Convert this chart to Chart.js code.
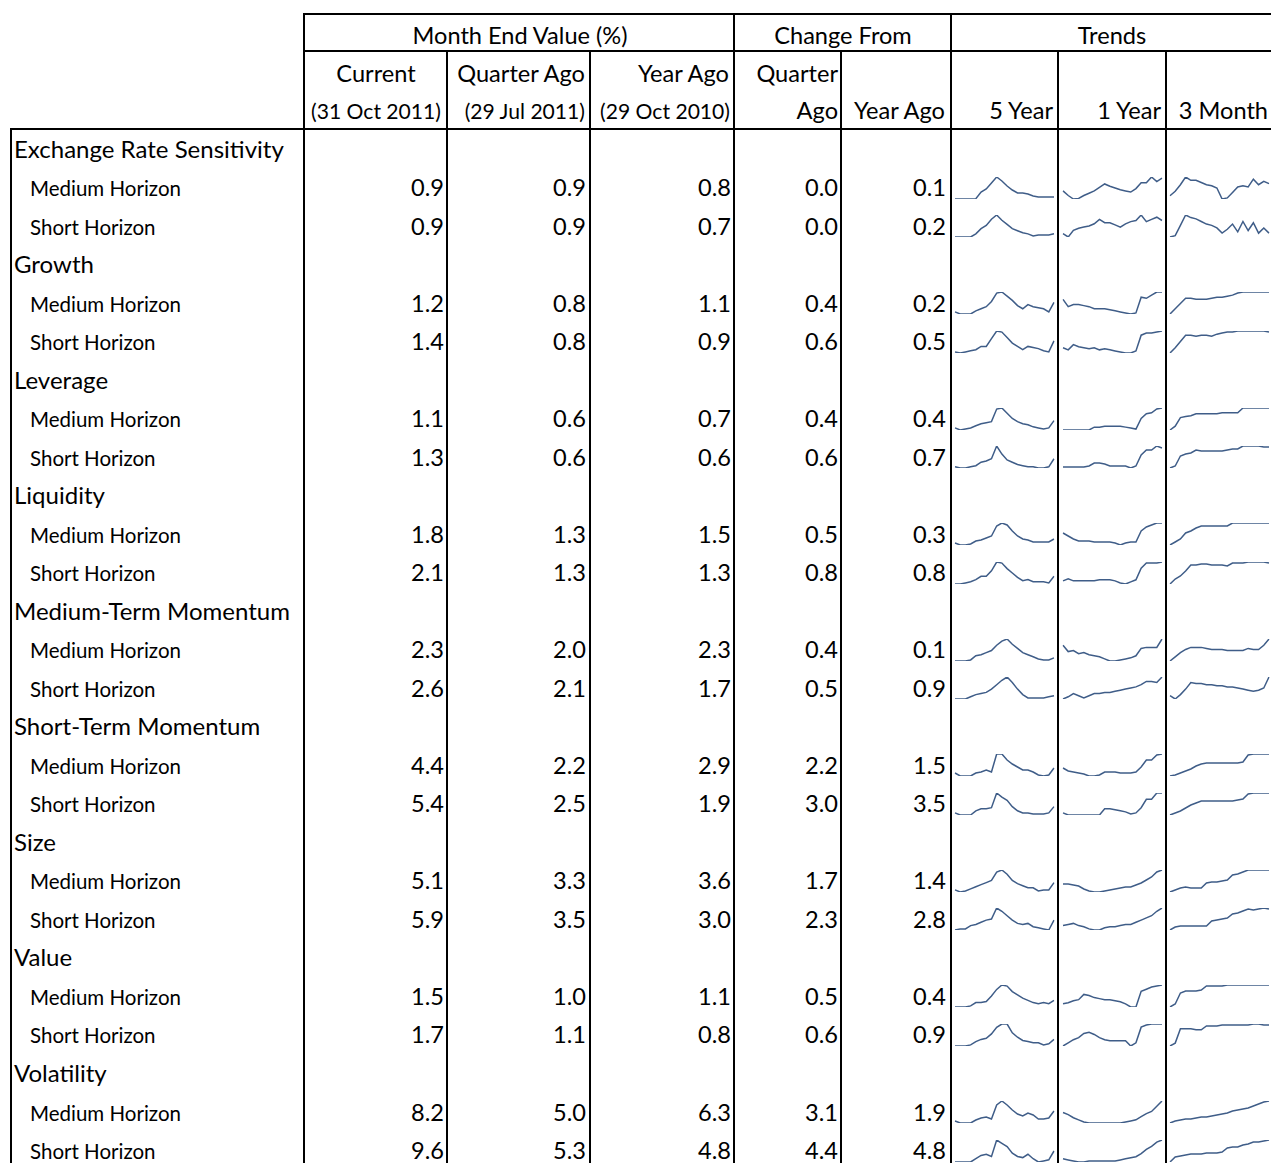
<!DOCTYPE html>
<html><head><meta charset="utf-8">
<script src="https://cdn.jsdelivr.net/npm/chart.js@4.4.1/dist/chart.umd.min.js"></script>
<style>
html,body{margin:0;padding:0;background:#fff;}
#wrap{position:relative;width:1271px;height:1163px;overflow:hidden;background:#fff;}
#grid{position:absolute;left:0;top:0;}
canvas.spark{position:absolute;}
</style></head><body>
<div id="wrap"><svg id="grid" width="1271" height="1163" xmlns="http://www.w3.org/2000/svg"></svg></div>
<script>
// ---------- DATA ----------
const groups = ["Exchange Rate Sensitivity","Growth","Leverage","Liquidity","Medium-Term Momentum","Short-Term Momentum","Size","Value","Volatility"];
const horizons = ["Medium Horizon","Short Horizon"];
const current    = [0.9,0.9,1.2,1.4,1.1,1.3,1.8,2.1,2.3,2.6,4.4,5.4,5.1,5.9,1.5,1.7,8.2,9.6];
const quarterAgo = [0.9,0.9,0.8,0.8,0.6,0.6,1.3,1.3,2.0,2.1,2.2,2.5,3.3,3.5,1.0,1.1,5.0,5.3];
const yearAgo    = [0.8,0.7,1.1,0.9,0.7,0.6,1.5,1.3,2.3,1.7,2.9,1.9,3.6,3.0,1.1,0.8,6.3,4.8];
const chgQuarter = [0.0,0.0,0.4,0.6,0.4,0.6,0.5,0.8,0.4,0.5,2.2,3.0,1.7,2.3,0.5,0.6,3.1,4.4];
const chgYear    = [0.1,0.2,0.2,0.5,0.4,0.7,0.3,0.8,0.1,0.9,1.5,3.5,1.4,2.8,0.4,0.9,1.9,4.8];
const headerTop = ["Month End Value (%)","Change From","Trends"];
const headerRow2 = ["Current","Quarter Ago","Year Ago","Quarter"];
const headerRow3 = ["(31 Oct 2011)","(29 Jul 2011)","(29 Oct 2010)","Ago","Year Ago"];
const trendLabels = ["5 Year","1 Year","3 Month"];

const trend5Y = [
 [1,1,1,1,1.3,8,11,17,23,19,14,10,7,7,6,4,3,3,3,3],
 [1,1,1,1,4,9,12,18,22,17,13,9,7,5,4,2,3,3,3,4],
 [3,1,1,1,4,6,8,13,21,22,18,14,9,6,10,8,7,6,3,12],
 [2,1,2,3,4,7,7,14,21,20,15,10,7,4,7,6,5,3,2,12],
 [2,0,1,2,4,6,7,8,20,21,16,11,8,6,5,3,2,1,2,9],
 [2,1,1,2,3,6,7,9,20,13,8,6,4,3,2,2,1,1,2,9],
 [2,0,0,1,4,5,7,9,19,22,20,14,9,6,5,3,3,3,3,6],
 [0,0,1,2,4,7,7,12,20,19,14,10,6,3,4,2,2,2,1,7],
 [0,0,0,1,5,6,8,10,15,19,21,16,12,8,6,4,2,1,1,3],
 [0,0,0,2,4,5,6,9,13,17,20,15,9,4,1,1,1,1,2,3],
 [3,0,0,0,3,4,6,4,22,22,16,12,9,6,6,4,1,0,1,8],
 [2,0,0,0,4,6,6,7,21,17,14,8,4,2,2,1,1,1,2,8],
 [2,0,1,3,5,7,9,11,19,21,17,11,8,6,4,4,1,2,2,9],
 [1,2,2,5,6,8,10,11,21,18,14,10,7,6,7,4,3,2,1,10],
 [0,0,0,1,4,4,5,10,16,20,19,14,11,8,6,4,3,4,3,6],
 [0,0,0,1,4,6,7,11,17,20,20,12,8,5,4,3,3,1,2,6],
 [2,0,0,0,3,5,6,4,18,22,18,13,9,7,10,8,4,4,5,12],
 [1,1,1,1,4,7,8,6,21,18,15,9,6,5,8,4,1,2,3,11]
];
const trend1Y = [
 [10,6,3,3.5,6,8,10,13,16,14,12.5,11,10,9,12,17,17,22,18,21],
 [5,2,8,10,11,12,14,18,15,15,13,11,14,16,17,22,16,18,20,17],
 [15,8,10,10,9,8,6,6,6,5,4,3,2,1,2,17,16,19,22,22],
 [7,5,10,8,7,6,7,5,6,5,4,3,2,2,4,19,21,21,22,23],
 [0,0,0,0,0,0,3,3,4,4,4,4,3,2,1,12,17,18,22,23],
 [2,2,2,2,2,3,6,6,5,3,3,3,3,1,3,14,19,19,23,21],
 [12,9,6,4,4,4,3,3,3,3,2,0,2,3,3,14,18,20,22,22],
 [4,6,4,4,4,4,4,5,5,5,4,2,1,3,5,16,21,21,21,22],
 [16,10,11,8,9,7,6,5,3,1,1,2,3,4,6,13,14,14,14,22],
 [1,3,6,4,2,4,6,6,7,7,8,9,10,11,12,14,17,17,16,21],
 [8,5,4,3,2,0,0,1,4,4,4,3,3,3,4,9,16,16,21,22],
 [3,1,1,1,1,1,1,1,7,7,6,5,4,2,3,8,16,16,22,22],
 [8,8,7,6,3,1,0,0,1,2,3,4,5,5,7,9,12,15,20,22],
 [5,6,7,5,4,2,1,1,3,4,4,5,6,6,8,10,12,14,18,21],
 [4,5,7,8,13,12,10,9,8,8,7,6,4,1,1,16,18,20,21,22],
 [1,4,7,9,13,14,12,9,7,6,6,6,6,1,4,19,21,22,22,22],
 [11,9,6,4,2,1,1,1,1,1,1,1,2,3,4,7,10,12,17,22],
 [3,2,1,0,0,1,1,1,1,1,1,2,3,4,5,8,12,15,19,21]
];
const trend3M = [
 [4,8,14,21,18,18,16,14,13,11,1,2,7,12,13,12,19,14,17,15],
 [6,7,15,23,21,20,18,16,15,13,9,12,16,10,18,11,17,9,13,9],
 [1,6,11,16,16,15,15,15,16,17,17,18,19,21,22,22,22,22,22,22],
 [1,6,12,18,18,17,18,18,17,19,20,21,21,22,22,22,22,22,22,21],
 [0,4,13,14,15,17,17,17,17,17,18,18,18,18,23,23,23,23,23,23],
 [0,2,12,14,15,18,17,17,17,17,17,18,19,19,22,22,22,22,21,21],
 [0,3,6,12,14,17,19,19,19,19,19,19,22,22,22,22,22,22,22,22],
 [0,5,8,13,19,19,20,20,19,19,19,18,21,21,21,22,22,22,22,21],
 [0,4,8,11,13,13,13,12,11,11,11,10,10,10,10,12,11,11,15,21],
 [4,1,5,10,16,15,15,14,14,13,13,12,12,11,10,9,8,9,11,21],
 [0,1,3,5,7,10,12,13,13,13,13,13,13,13,14,21,22,22,22,22],
 [0,2,4,7,10,12,14,14,14,14,14,14,14,15,16,21,22,22,22,22],
 [0,2,4,5,4,4,4,9,10,10,11,12,17,18,20,22,22,22,22,22],
 [0,3,4,4,4,4,4,4,9,10,11,12,16,17,19,21,20,21,22,21],
 [0,3,14,16,16,16,17,21,21,21,21,22,22,22,22,22,22,22,22,22],
 [0,3,18,18,18,17,17,21,21,21,22,22,22,22,22,22,23,23,22,22],
 [0,2,3,4,4,5,6,6,7,8,9,10,12,13,14,15,17,19,21,22],
 [0,5,6,7,8,8,8,9,9,9,10,14,15,15,17,18,20,20,21,22]
];

// ---------- LAYOUT ----------
const FONT = "Lato, 'Open Sans', sans-serif";
const svg = document.getElementById('grid');
const wrap = document.getElementById('wrap');
const NS = "http://www.w3.org/2000/svg";
const mctx = document.createElement('canvas').getContext('2d');
function fit(s, target){ mctx.font = "100px Lato"; return 100*target/mctx.measureText(s).width; }

function rect(x,y,w,h){ const r=document.createElementNS(NS,'rect'); r.setAttribute('x',x); r.setAttribute('y',y); r.setAttribute('width',w); r.setAttribute('height',h); r.setAttribute('fill','#000'); svg.appendChild(r); }
function txt(s,x,y,size,anchor){ const t=document.createElementNS(NS,'text'); t.setAttribute('x',x); t.setAttribute('y',y); t.setAttribute('font-size',size.toFixed(2)); t.setAttribute('font-family',FONT); t.setAttribute('text-anchor',anchor); t.setAttribute('fill','#000'); t.textContent=s; svg.appendChild(t); }

function spark(x, y, w, h, vals){
  const pad = 2;
  const c = document.createElement('canvas');
  c.className = 'spark'; c.width = w + 2*pad; c.height = h + 2*pad;
  c.style.left = (x - pad) + 'px'; c.style.top = (y - pad) + 'px';
  wrap.appendChild(c);
  new Chart(c, {
    type: 'line',
    data: { labels: vals.map((_, i) => i), datasets: [{ data: vals, borderColor: '#3f5d88', borderWidth: 1.5, pointRadius: 0, tension: 0, fill: false }] },
    options: {
      responsive: false, animation: false, events: [], devicePixelRatio: 1,
      layout: { padding: pad },
      plugins: { legend: { display: false }, tooltip: { enabled: false } },
      scales: { x: { display: false, offset: false }, y: { display: false, min: Math.min(...vals), max: Math.max(...vals) } }
    }
  });
}

function build(){
  const hdrSize = fit("Month End Value (%)", 216);
  const grpSize = fit("Medium-Term Momentum", 276);
  const subSize = fit("Medium Horizon", 151);
  const dateSize = Math.min(fit(headerRow3[0], 130), fit(headerRow3[1], 125), fit(headerRow3[2], 133));

  // grid lines
  [[303,13,2,1150],[733,13,2,1150],[950,13,2,1150],
   [446,51,2,1112],[589,51,2,1112],[840,51,2,1112],[1057,51,2,1112],[1165,51,2,1112],
   [10,128,2,1035]].forEach(a=>rect(...a));
  rect(303,13,968,2); rect(303,50,968,2); rect(10,128,1261,2);

  // header
  txt(headerTop[0], 520, 43.5, hdrSize, 'middle');
  txt(headerTop[1], 843, 43.5, hdrSize, 'middle');
  txt(headerTop[2], 1112, 43.5, hdrSize, 'middle');
  txt(headerRow2[0], 376, 81.5, hdrSize, 'middle');
  txt(headerRow2[1], 585, 81.5, hdrSize, 'end');
  txt(headerRow2[2], 729, 81.5, hdrSize, 'end');
  txt(headerRow2[3], 838, 81.5, hdrSize, 'end');
  txt(headerRow3[0], 376, 119, dateSize, 'middle');
  txt(headerRow3[1], 585, 119, dateSize, 'end');
  txt(headerRow3[2], 730, 119, dateSize, 'end');
  txt(headerRow3[3], 838, 119, hdrSize, 'end');
  txt(headerRow3[4], 945, 119, hdrSize, 'end');
  txt(trendLabels[0], 1053, 119, hdrSize, 'end');
  txt(trendLabels[1], 1161, 119, hdrSize, 'end');
  txt(trendLabels[2], 1268, 119, hdrSize, 'end');

  const rowH = 38.52, top0 = 129;
  const numEnds = [444, 586, 731, 838, 946];
  const cols = [current, quarterAgo, yearAgo, chgQuarter, chgYear];
  const sparkX = [955, 1063, 1170];
  const trends = [trend5Y, trend1Y, trend3M];
  let r = 0;
  groups.forEach((g, gi) => {
    const gt = top0 + r*rowH;
    txt(g, 14, gt + 28.5, grpSize, 'start');
    r++;
    horizons.forEach((hname, hi) => {
      const k = gi*2 + hi;
      const rt = top0 + r*rowH;
      txt(hname, 30, rt + 28.5, subSize, 'start');
      cols.forEach((arr, ci) => txt(arr[k].toFixed(1), numEnds[ci], rt + 28.5, hdrSize, 'end'));
      trends.forEach((tr, ti) => spark(sparkX[ti], rt + 9, 99, 22, tr[k]));
      r++;
    });
  });
}
if (document.fonts && document.fonts.load) { document.fonts.load("20px Lato").then(build, build); } else { build(); }
</script>
</body></html>
